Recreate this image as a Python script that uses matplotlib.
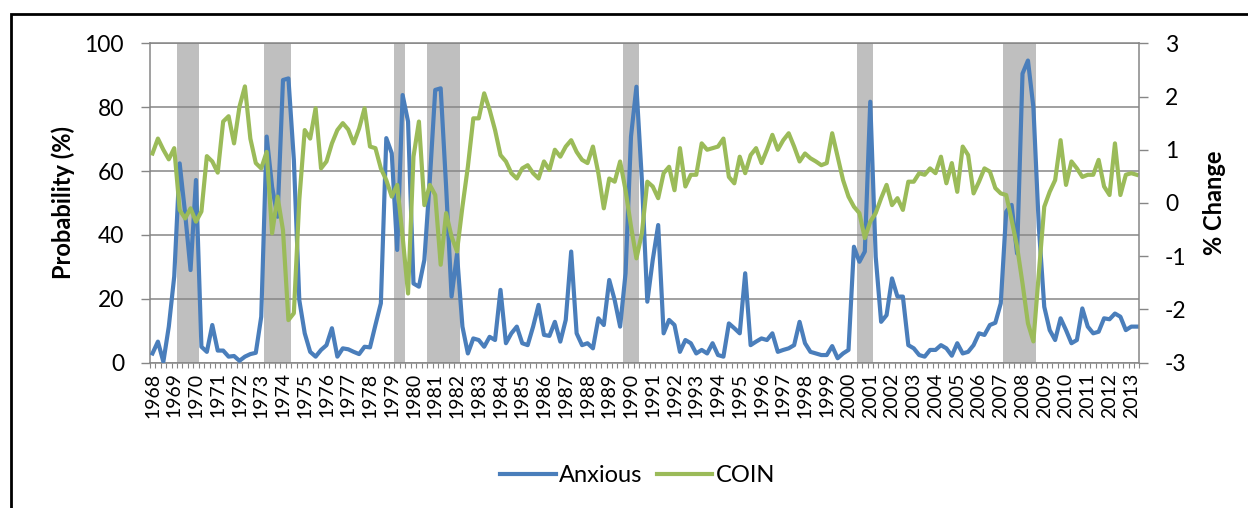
import numpy as np
import matplotlib.pyplot as plt
from matplotlib.patches import Rectangle

# datos trimestrales 1968Q1 - 2013Q2
years = list(range(1968, 2014))

anxious = [
    2.9, 6.6, 0.3, 11.3, 27, 62.4, 46.8, 29, 57.2, 5,
    3.4, 11.8, 3.8, 3.8, 1.9, 2.1, 0.6, 1.9, 2.7, 3.1,
    14.4, 70.8, 55, 45.7, 88.5, 89, 63.5, 19.6, 9.2, 3.4,
    1.9, 4, 5.5, 10.8, 1.9, 4.5, 4.2, 3.4, 2.7, 5,
    4.8, 11.8, 18.6, 70.3, 65.6, 35.3, 83.8, 75.5, 24.8, 23.8,
    32.2, 57.2, 85.4, 85.9, 55.1, 20.7, 34, 11.3, 2.9, 7.6,
    7.1, 5, 8.1, 7.1, 22.8, 6.1, 9.2, 11.3, 6.1, 5.5,
    11.3, 18.1, 8.7, 8.4, 12.8, 6.6, 13.4, 34.8, 9.2, 5.5,
    6.1, 4.5, 13.9, 11.8, 25.9, 19.6, 11.3, 28, 70.8, 86.4,
    57.2, 19.1, 32.2, 43.1, 9.2, 13.4, 11.8, 3.4, 7.1, 6.1,
    2.9, 4, 2.9, 6.1, 2.4, 1.9, 12.3, 10.8, 9.2, 28,
    5.5, 6.6, 7.6, 7.1, 9.2, 3.4, 4, 4.5, 5.5, 12.8,
    6.1, 3.4, 2.9, 2.4, 2.4, 5.2, 1.4, 2.9, 4, 36.3,
    31.6, 34.8, 81.7, 33.2, 12.8, 14.9, 26.4, 20.7, 20.7, 5.5,
    4.5, 2.4, 1.9, 4, 4, 5.5, 4.5, 2.2, 6.1, 2.9,
    3.4, 5.5, 9.2, 8.7, 11.8, 12.5, 18.6, 47.3, 49.4, 34.2,
    90.5, 94.6, 80, 42.6, 17.5, 10.2, 7.1, 13.9, 10.2, 6.1,
    7.1, 17, 11.3, 9.2, 9.7, 13.9, 13.6, 15.4, 14.4, 10.2,
    11.3, 11.3,
]

coin = [
    0.93, 1.21, 1.0, 0.82, 1.03, -0.13, -0.29, -0.1, -0.35, -0.16,
    0.88, 0.78, 0.57, 1.53, 1.63, 1.12, 1.81, 2.19, 1.21, 0.75,
    0.65, 0.96, -0.57, 0.12, -0.51, -2.2, -2.07, 0.06, 1.37, 1.21,
    1.78, 0.65, 0.78, 1.12, 1.37, 1.5, 1.38, 1.12, 1.4, 1.78,
    1.06, 1.03, 0.65, 0.43, 0.12, 0.34, -0.63, -1.7, 0.87, 1.53,
    -0.04, 0.34, 0.15, -1.16, -0.19, -0.63, -0.91, -0.07, 0.68, 1.59,
    1.59, 2.06, 1.75, 1.37, 0.9, 0.78, 0.56, 0.46, 0.65, 0.71,
    0.56, 0.46, 0.78, 0.62, 1.0, 0.87, 1.06, 1.18, 0.96, 0.81,
    0.75, 1.06, 0.56, -0.1, 0.46, 0.4, 0.78, 0.24, -0.44, -1.04,
    -0.57, 0.4, 0.31, 0.09, 0.56, 0.68, 0.24, 1.03, 0.31, 0.53,
    0.53, 1.12, 1.0, 1.03, 1.06, 1.21, 0.49, 0.37, 0.87, 0.56,
    0.9, 1.03, 0.75, 1.0, 1.28, 1.0, 1.18, 1.31, 1.06, 0.78,
    0.93, 0.84, 0.78, 0.71, 0.75, 1.31, 0.87, 0.43, 0.12, -0.07,
    -0.19, -0.66, -0.35, -0.19, 0.09, 0.34, -0.04, 0.09, -0.13, 0.4,
    0.4, 0.56, 0.53, 0.65, 0.56, 0.87, 0.37, 0.75, 0.21, 1.06,
    0.9, 0.18, 0.4, 0.65, 0.59, 0.28, 0.18, 0.15, -0.32, -0.82,
    -1.51, -2.26, -2.6, -1.32, -0.07, 0.21, 0.43, 1.18, 0.34, 0.78,
    0.65, 0.49, 0.53, 0.53, 0.81, 0.31, 0.15, 1.12, 0.15, 0.53,
    0.56, 0.53,
]

# primer y ultimo trimestre de cada recesion (sombreado)
recessions = [(5, 8), (21, 25), (45, 46), (51, 56), (87, 89), (130, 132), (157, 162)]

plt.rcParams["font.family"] = ["Lato", "DejaVu Sans"]
plt.rcParams["axes.unicode_minus"] = False

gris = "#868686"
fig = plt.figure(figsize=(12.48, 5.08), dpi=100)
ax = fig.add_axes([0.12, 0.286, 0.793, 0.6288])
ax2 = ax.twinx()

x = np.arange(len(anxious))

for ini, fin in recessions:
    ax.axvspan(ini - 0.5, fin + 0.5, color="#bfbfbf", lw=0, zorder=1)

ax.yaxis.grid(True, color=gris, linewidth=1.1)

l1, = ax.plot(x, anxious, color="#4a7ebb", linewidth=3, label="Anxious",
              solid_joinstyle="round", zorder=3)
l2, = ax2.plot(x, coin, color="#9bbb59", linewidth=3, label="COIN",
               solid_joinstyle="round")

# ejes
ax.set_xlim(-0.5, len(anxious) - 0.5)
ax.set_ylim(0, 100)
ax.set_yticks(np.arange(0, 101, 20))
ax2.set_ylim(-3, 3)
ax2.set_yticks(np.arange(-3, 4, 1))

ax.set_xticks(x[::4])
ax.set_xticklabels([str(a) for a in years], rotation=90)
ax.set_xticks(np.arange(-0.5, len(anxious), 1), minor=True)
ax.tick_params(axis="x", which="major", length=0, pad=7, labelsize=14)
ax.tick_params(axis="x", which="minor", length=3.6, width=0.8, color=gris)
ax.tick_params(axis="y", length=6.5, width=1, color=gris, pad=12, labelsize=16.5)
ax2.tick_params(axis="y", length=6.5, width=1, color=gris, pad=12, labelsize=16.5)

for s in ["left", "bottom", "top"]:
    ax.spines[s].set_color(gris)
    ax.spines[s].set_linewidth(1.1)
ax.spines["right"].set_visible(False)
for s in ["left", "bottom", "top"]:
    ax2.spines[s].set_visible(False)
ax2.spines["right"].set_color(gris)
ax2.spines["right"].set_linewidth(1.1)

# etiquetas
ax.text(-0.0876, 0.5, "Probability (%)", transform=ax.transAxes, rotation=90,
        ha="center", va="center", fontsize=17, fontweight="bold")
ax2.text(1.0755, 0.5, "% Change", transform=ax2.transAxes, rotation=90,
         ha="center", va="center", fontsize=17, fontweight="bold")

fig.legend(handles=[l1, l2], loc="center", bbox_to_anchor=(0.511, 0.063), ncol=2,
           frameon=False, fontsize=17, handlelength=2.35, handletextpad=0.15,
           columnspacing=0.6)

# marco exterior
fig.patches.append(Rectangle((11 / 1248, -0.1), 1.2, 1 - 14 / 508 + 0.1,
                             transform=fig.transFigure, fill=False,
                             edgecolor="black", linewidth=2))

fig.savefig("out.png", dpi=100)
